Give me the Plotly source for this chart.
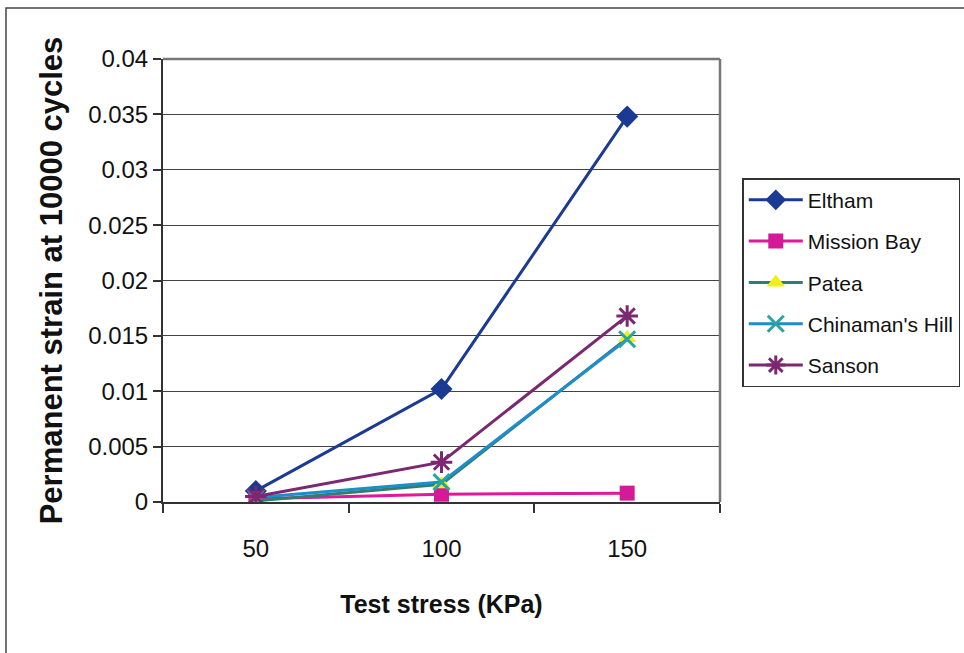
import plotly.graph_objects as go

# Test stress levels (category axis)
stress = ["50", "100", "150"]

# Permanent strain after 10000 load cycles, per material
eltham = [0.0010, 0.0102, 0.0348]
mission_bay = [0.0003, 0.0007, 0.0008]
patea = [0.0001, 0.0016, 0.0148]
chinamans_hill = [0.0004, 0.0018, 0.0147]
sanson = [0.0005, 0.0036, 0.0168]

y_ticks = [0, 0.005, 0.01, 0.015, 0.02, 0.025, 0.03, 0.035, 0.04]
y_ticktext = ["0", "0.005", "0.01", "0.015", "0.02", "0.025", "0.03", "0.035", "0.04"]

FONT = "Liberation Sans, Arial, sans-serif"

series = [
    ("Eltham", eltham, "#1B3A94", dict(symbol="diamond", size=17, color="#1B3A94")),
    ("Mission Bay", mission_bay, "#E0189A",
     dict(symbol="square", size=15, color="#D51A97")),
    ("Patea", patea, "#2E7F6E",
     dict(symbol="triangle-up", size=16, color="#F5EE1A")),
    ("Chinaman's Hill", chinamans_hill, "#1F8CCB",
     dict(symbol="x-thin", size=16, color="#2AA3A3",
          line=dict(width=3, color="#2AA3A3"))),
    ("Sanson", sanson, "#7C2870",
     dict(symbol="asterisk", size=18, color="#7C2870",
          line=dict(width=3, color="#7C2870"))),
]

fig = go.Figure()
for i, (name, vals, col, marker) in enumerate(series):
    fig.add_trace(go.Scatter(
        x=stress, y=vals, name=name, mode="lines+markers",
        line=dict(color=col, width=3), marker=marker,
        legendgroup=f"g{i}",
    ))

fig.update_layout(
    width=964, height=653,
    margin=dict(l=163, r=244, t=59, b=151, autoexpand=False),
    paper_bgcolor="white", plot_bgcolor="white",
    font=dict(family=FONT, color="#111111"),
    showlegend=True,
    legend=dict(
        x=1.04, y=0.731, xanchor="left", yanchor="top",
        bordercolor="#333333", borderwidth=1.5,
        bgcolor="white", font=dict(size=21, family=FONT),
        itemwidth=54, tracegroupgap=11,
    ),
    xaxis=dict(
        type="category", range=[-0.5, 2.5],
        tickson="boundaries", ticks="outside", ticklen=9,
        tickcolor="#333333", tickwidth=1.5,
        showgrid=False, showline=True, linecolor="#333333", linewidth=2,
        mirror=False, tickfont=dict(size=24),
        ticklabelstandoff=24,
        title=dict(text="<b>Test stress (KPa)</b>", font=dict(size=25), standoff=35),
    ),
    yaxis=dict(
        range=[0, 0.04], tickvals=y_ticks, ticktext=y_ticktext,
        ticks="outside", ticklen=8, tickcolor="#333333", tickwidth=1.5,
        showgrid=True, gridcolor="#444444", gridwidth=1.3,
        showline=True, linecolor="#333333", linewidth=2,
        zeroline=False, tickfont=dict(size=24),
        title=dict(text="<b>Permanent strain at 10000 cycles</b>",
                   font=dict(size=31), standoff=16),
    ),
    shapes=[
        # grey plot-area border on top and right
        dict(type="line", xref="paper", yref="paper", x0=0, x1=1, y0=1, y1=1,
             line=dict(color="#777777", width=2.5)),
        dict(type="line", xref="paper", yref="paper", x0=1, x1=1, y0=0, y1=1,
             line=dict(color="#777777", width=2.5)),
        # outer chart frame
        dict(type="rect", xref="paper", yref="paper",
             x0=(6 - 163) / 557, x1=2.0, y0=-1.0, y1=(502 - 8) / 443,
             line=dict(color="#444444", width=1.5), layer="below"),
    ],
)

fig.write_html("out.html")
